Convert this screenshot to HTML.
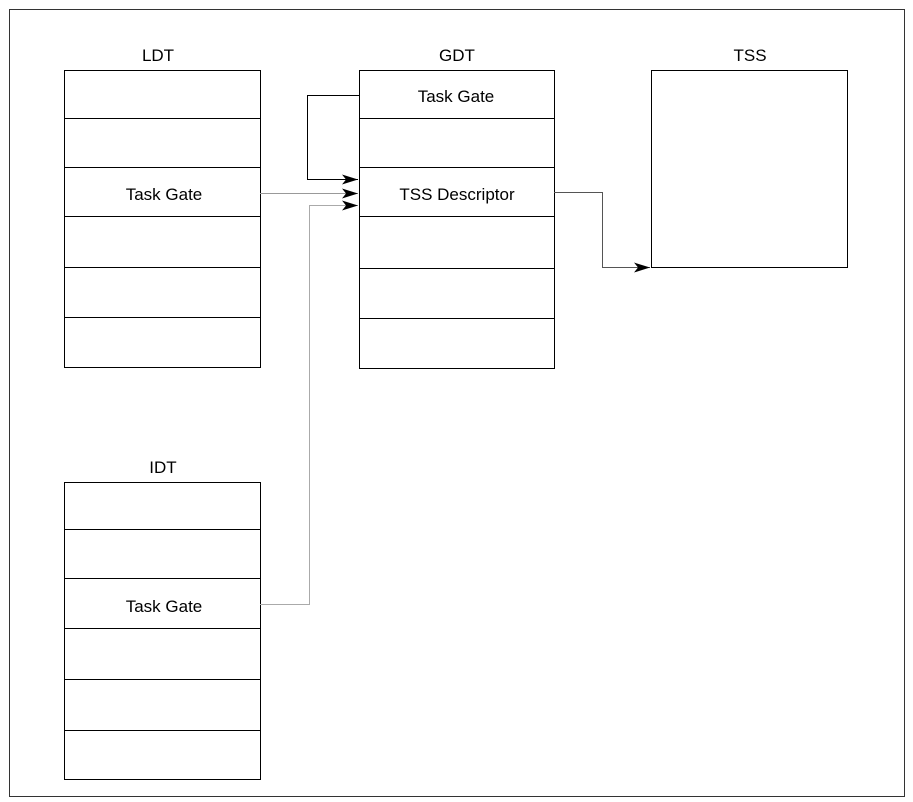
<!DOCTYPE html>
<html><head><style>body{margin:0;background:#fff}svg{display:block}</style></head><body>
<svg width="913" height="802" xmlns="http://www.w3.org/2000/svg" font-family="Liberation Sans, Arial, sans-serif" font-size="17">
<rect x="9.5" y="9.5" width="895" height="787" fill="#fff" stroke="#333" stroke-width="1"/>
<defs><marker id="a" markerWidth="16" markerHeight="10" refX="16" refY="5" orient="auto" markerUnits="userSpaceOnUse"><path d="M0,0 L16,5 L0,10 L4,5 Z" fill="#000"/></marker></defs>
<g fill="none" stroke="#000" stroke-width="1">
<rect x="64.5" y="70.5" width="196" height="297"/>
<path d="M64 118.5H260M64 167.5H260M64 216.5H260M64 267.5H260M64 317.5H260"/>
<rect x="359.5" y="70.5" width="195" height="298"/>
<path d="M359 118.5H554M359 167.5H554M359 216.5H554M359 268.5H554M359 318.5H554"/>
<rect x="651.5" y="70.5" width="196" height="197"/>
<rect x="64.5" y="482.5" width="196" height="297"/>
<path d="M64 529.5H260M64 578.5H260M64 628.5H260M64 679.5H260M64 730.5H260"/>
<path d="M359 95.5H307.5V179.5H358" marker-end="url(#a)"/>
<path d="M260 193.5H358" stroke="#999" marker-end="url(#a)"/>
<path d="M260 604.5H309.5V205.5H358" stroke="#aaa" marker-end="url(#a)"/>
<path d="M554 192.5H602.5V267.5H650" stroke="#555" marker-end="url(#a)"/>
</g>
<g text-anchor="middle" fill="#000">
<text x="158" y="61">LDT</text>
<text x="457" y="61">GDT</text>
<text x="750" y="61">TSS</text>
<text x="163" y="473">IDT</text>
<text x="164" y="200">Task Gate</text>
<text x="456" y="102">Task Gate</text>
<text x="457" y="200">TSS Descriptor</text>
<text x="164" y="612">Task Gate</text>
</g>
</svg>
</body></html>
